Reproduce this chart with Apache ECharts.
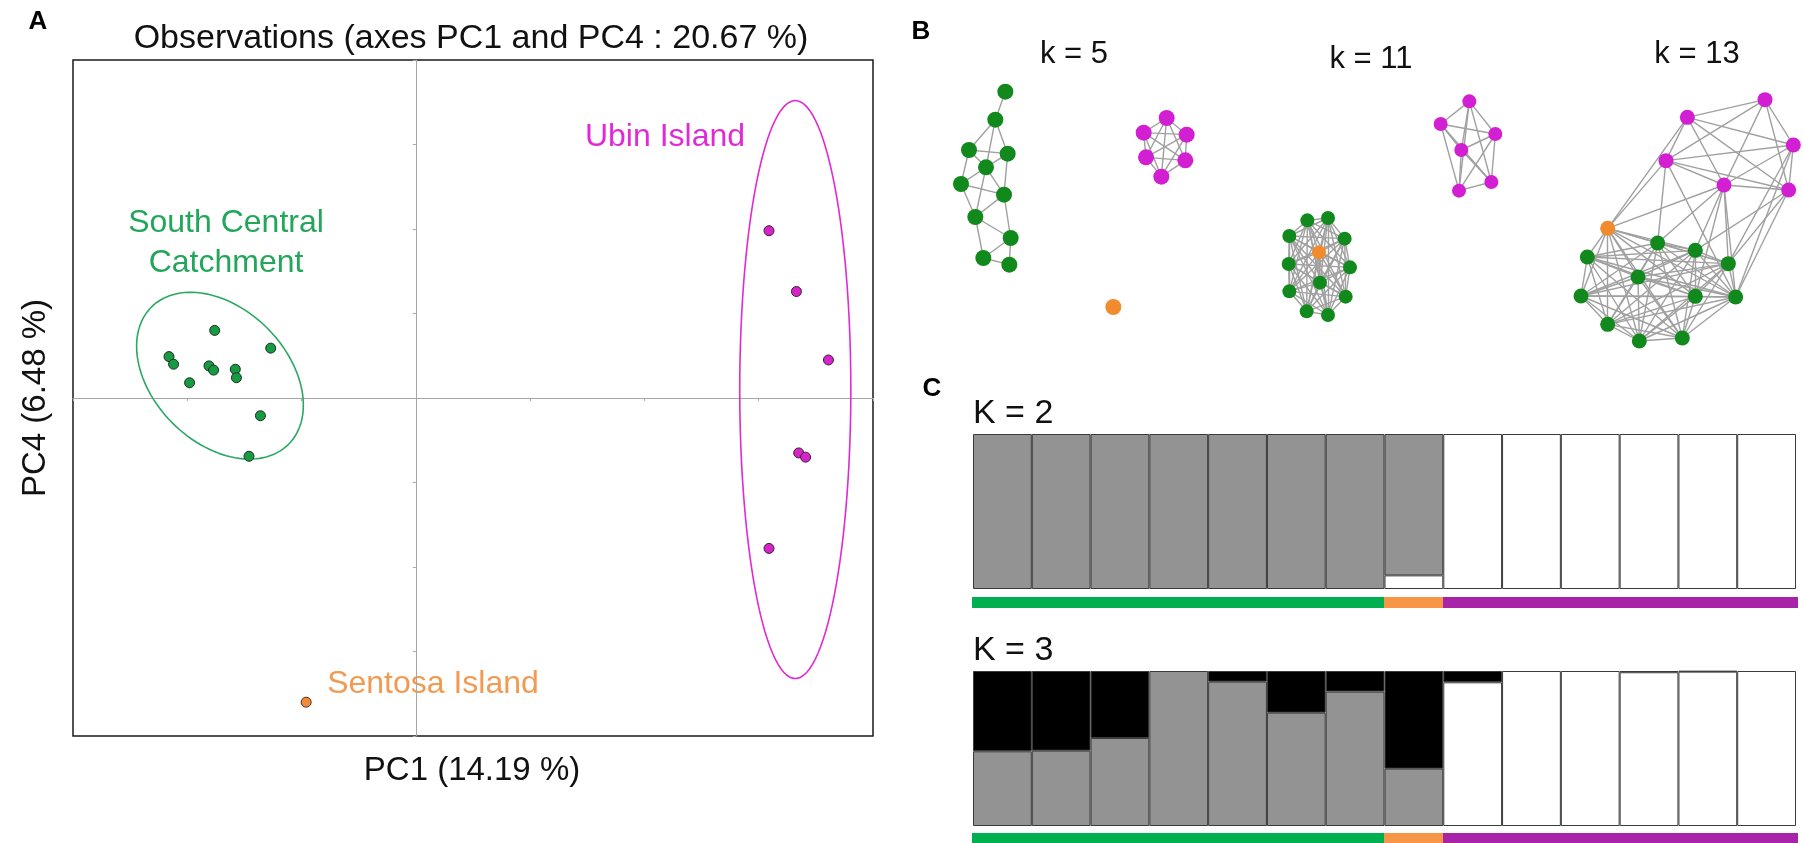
<!DOCTYPE html>
<html>
<head>
<meta charset="utf-8">
<script src="https://cdn.jsdelivr.net/npm/echarts@6/dist/echarts.min.js"></script>
<style>
  html, body { margin: 0; padding: 0; background: #fff; }
  #chart { width: 1803px; height: 843px; }
</style>
</head>
<body>
<div id="chart"></div>
<script>
// ---------- Panel A: PCA scores (PC1 vs PC4) ----------
const sccX = [-1.76, -1.27, -2.16, -2.12, -1.81, -1.77, -1.58, -1.57, -1.98, -1.36, -1.46];
const sccY = [0.80, 0.59, 0.49, 0.40, 0.38, 0.33, 0.34, 0.24, 0.18, -0.21, -0.69];
const ubinX = [3.09, 3.33, 3.61, 3.35, 3.41, 3.09];
const ubinY = [1.98, 1.26, 0.45, -0.65, -0.70, -1.78];
const sentosaX = [-0.96];
const sentosaY = [-3.60];
// confidence ellipses: centre x, centre y, first semi-axis (dx, dy), second semi-axis (dx, dy)
const ellipseSCC = [-1.714, 0.264, 0.600, -0.812, 0.415, 0.561];
const ellipseUbin = [3.32, 0.10, 0.486, 0.0, 0.0, 3.42];
const pcaXTicks = [-3, 4, 1];   // min, max, interval
const pcaYTicks = [-4, 4, 1];

// ---------- Panel B: k-nearest-neighbour networks (layout units) ----------
const k5Green = [[226,95],[196,179],[117,270],[233,281],[168,322],[93,372],[222,404],[136,471],[242,534],[160,594],[238,614]];
const k5Magenta = [[710,174],[641,218],[770,224],[648,292],[766,301],[694,350]];
const k5Orange = [[550,741]];
const k5GreenLinks = [[0,1],[1,2],[1,3],[1,4],[2,3],[2,4],[3,4],[2,5],[4,5],[3,6],[4,6],[5,6],[4,7],[5,7],[6,7],[6,8],[7,8],[7,9],[8,9],[8,10],[9,10]];

const k11Green = [[172,421],[234,414],[118,468],[284,476],[116,552],[300,562],[210,608],[118,634],[287,650],[170,694],[234,705]];
const k11Orange = [[207,517]];
const k11Magenta = [[658,64],[572,132],[736,162],[634,210],[724,306],[627,332]];

const k13Magenta = [[645,119],[412,172],[730,255],[348,302],[522,375],[716,390]];
const k13Orange = [[173,505]];
const k13Green = [[323,549],[436,571],[112,591],[535,611],[264,651],[93,708],[436,709],[557,711],[173,793],[268,843],[397,834]];
// links between the Ubin cluster (first index) and the others (o = Sentosa, g# = green)
const k13CrossLinks = [[3,'o'],[1,'o'],[4,'o'],[3,'g0'],[3,'g7'],[4,'g0'],[4,'g1'],[4,'g3'],[4,'g6'],[4,'g7'],[5,'g1'],[5,'g3'],[5,'g7'],[2,'g7'],[2,'g3']];

// ---------- Panel C: ancestry proportions ----------
const individuals = ['1','2','3','4','5','6','7','8','9','10','11','12','13','14'];
const population = ['SCC','SCC','SCC','SCC','SCC','SCC','SCC','Sentosa','Ubin','Ubin','Ubin','Ubin','Ubin','Ubin'];
const k2White = [0, 0, 0, 0, 0, 0, 0, 0.088, 1, 1, 1, 1, 1, 1];
const k2Gray  = [1, 1, 1, 1, 1, 1, 1, 0.912, 0, 0, 0, 0, 0, 0];
const k3White = [0, 0, 0, 0, 0, 0, 0, 0, 0.927, 1, 1, 0.992, 0.996, 1];
const k3Gray  = [0.482, 0.486, 0.568, 1, 0.931, 0.731, 0.867, 0.370, 0, 0, 0, 0, 0.004, 0];
const k3Black = [0.518, 0.514, 0.432, 0, 0.069, 0.269, 0.133, 0.630, 0.073, 0, 0, 0.008, 0, 0];

// ---------- styles ----------
const FONT = '"Liberation Sans", Arial, Helvetica, sans-serif';
const C = {
  sccText: '#22a65a', sccEllipse: '#2aa862', sccPoint: '#169a42',
  ubinText: '#e02ad6', ubinEllipse: '#e02ad6', ubinPoint: '#d624c8',
  sentosaText: '#f29a52', sentosaPoint: '#f08c3a',
  netGreen: '#12891c', netMagenta: '#d21fd2', netOrange: '#f28a2e', edge: '#a0a0a0',
  barGray: '#939393', barBlack: '#000000', barWhite: '#ffffff', barBorder: '#3a3a3a',
  stripGreen: '#00b050', stripOrange: '#f79646', stripPurple: '#a724a9'
};
const popColor = { SCC: C.stripGreen, Sentosa: C.stripOrange, Ubin: C.stripPurple };

const zip = (xs, ys) => xs.map((x, i) => [x, ys[i]]);

function graphSeries(axis, groups, links, size) {
  const data = [];
  const idx = {};
  groups.forEach(g => {
    g.nodes.forEach((p, i) => {
      idx[g.key + i] = data.length;
      data.push({ name: g.key + i, value: p, itemStyle: { color: g.color } });
    });
  });
  return {
    type: 'graph', coordinateSystem: 'cartesian2d', layout: 'none',
    xAxisIndex: axis, yAxisIndex: axis, silent: true,
    symbol: 'circle', symbolSize: size,
    itemStyle: { borderWidth: 0 },
    lineStyle: { color: C.edge, width: 1.4, opacity: 1, curveness: 0 },
    data: data,
    links: links.map(([a, b]) => ({ source: data[idx[a]].name, target: data[idx[b]].name }))
  };
}
function complete(prefixes, counts) {
  const names = [];
  prefixes.forEach((p, k) => { for (let i = 0; i < counts[k]; i++) names.push(p + i); });
  const out = [];
  for (let i = 0; i < names.length; i++)
    for (let j = i + 1; j < names.length; j++) out.push([names[i], names[j]]);
  return out;
}

const k5Links = k5GreenLinks.map(([a, b]) => ['g' + a, 'g' + b])
  .concat(complete(['m'], [k5Magenta.length]));
const k11Links = complete(['g', 'o'], [k11Green.length, k11Orange.length])
  .concat(complete(['m'], [k11Magenta.length]));
const k13Links = complete(['g', 'o'], [k13Green.length, k13Orange.length])
  .concat(complete(['m'], [k13Magenta.length]))
  .concat(k13CrossLinks.map(([m, t]) => ['m' + m, t === 'o' ? 'o0' : t]));

const nz = v => (v > 0 ? v : '-');
function stackBar(axis, values, color, stack) {
  return {
    type: 'bar', xAxisIndex: axis, yAxisIndex: axis, stack: stack, silent: true,
    barCategoryGap: '0%', barGap: '0%',
    itemStyle: { color: color, borderColor: C.barBorder, borderWidth: 1 },
    data: values.map(nz)
  };
}
// population colour strip under each plot: one seamless block per individual
function stripSeries(axis) {
  return {
    type: 'custom', xAxisIndex: axis, yAxisIndex: axis, silent: true,
    data: population.map((p, i) => [i, 1]),
    renderItem: function (params, api) {
      const top = api.coord([api.value(0), api.value(1)]);
      const bottom = api.coord([api.value(0), 0]);
      const w = api.size([1, 0])[0];
      return {
        type: 'rect',
        shape: { x: Math.floor(top[0] - w / 2), y: top[1], width: Math.ceil(w) + 1, height: bottom[1] - top[1] },
        style: { fill: popColor[population[params.dataIndex]] }
      };
    }
  };
}

const hiddenValue = (gi, min, max, inverse) => ({ type: 'value', gridIndex: gi, min, max, inverse: !!inverse, show: false });
const hiddenCat = gi => ({ type: 'category', gridIndex: gi, data: individuals, show: false });

const pcaAxisStyle = {
  axisLine: { show: true, onZero: true, lineStyle: { color: '#a6a6a6', width: 1 } },
  axisTick: { show: true, length: 3, lineStyle: { color: '#a6a6a6' } },
  axisLabel: { show: false }, splitLine: { show: false }
};

const ellipseColors = [C.sccEllipse, C.ubinEllipse];

function txt(text, x, y, size, color, opts) {
  return Object.assign({
    type: 'text', x: x, y: y, silent: true,
    style: { text: text, font: (opts && opts.bold ? 'bold ' : '') + size + 'px ' + FONT, fill: color,
             align: (opts && opts.align) || 'center', verticalAlign: 'middle' }
  }, opts && opts.rotation ? { rotation: opts.rotation } : {});
}

const option = {
  animation: false,
  backgroundColor: '#ffffff',
  textStyle: { fontFamily: FONT },
  grid: [
    { left: 73, top: 60, width: 800, height: 676, show: true, borderColor: '#1a1a1a', borderWidth: 1.5, backgroundColor: 'transparent' },
    { left: 930, top: 60, width: 300, height: 320 },
    { left: 1250, top: 80, width: 280, height: 300 },
    { left: 1550, top: 60, width: 253, height: 320 },
    { left: 973, top: 434, width: 823, height: 155 },
    { left: 972, top: 597, width: 825, height: 11 },
    { left: 973, top: 671, width: 823, height: 155 },
    { left: 972, top: 833, width: 825, height: 11 }
  ],
  xAxis: [
    Object.assign({ type: 'value', gridIndex: 0, min: pcaXTicks[0], max: pcaXTicks[1], interval: pcaXTicks[2] }, pcaAxisStyle),
    hiddenValue(1, 0, 900), hiddenValue(2, 0, 840), hiddenValue(3, 0, 759),
    hiddenCat(4), hiddenCat(5), hiddenCat(6), hiddenCat(7)
  ],
  yAxis: [
    Object.assign({ type: 'value', gridIndex: 0, min: pcaYTicks[0], max: pcaYTicks[1], interval: pcaYTicks[2] }, pcaAxisStyle),
    hiddenValue(1, 0, 960, true), hiddenValue(2, 0, 900, true), hiddenValue(3, 0, 960, true),
    hiddenValue(4, 0, 1), hiddenValue(5, 0, 1), hiddenValue(6, 0, 1), hiddenValue(7, 0, 1)
  ],
  series: [
    {
      type: 'custom', xAxisIndex: 0, yAxisIndex: 0, silent: true, clip: true,
      data: [ellipseSCC, ellipseUbin],
      renderItem: function (params, api) {
        const cx = api.value(0), cy = api.value(1);
        const ux = api.value(2), uy = api.value(3), vx = api.value(4), vy = api.value(5);
        const pts = [];
        for (let k = 0; k <= 120; k++) {
          const t = k / 120 * Math.PI * 2;
          pts.push(api.coord([cx + ux * Math.cos(t) + vx * Math.sin(t), cy + uy * Math.cos(t) + vy * Math.sin(t)]));
        }
        return { type: 'polyline', shape: { points: pts }, style: { fill: 'none', stroke: ellipseColors[params.dataIndex], lineWidth: 1.6 } };
      }
    },
    { type: 'scatter', xAxisIndex: 0, yAxisIndex: 0, silent: true, symbolSize: 10, data: zip(sccX, sccY),
      itemStyle: { color: C.sccPoint, borderColor: '#1f2f22', borderWidth: 1, opacity: 1 } },
    { type: 'scatter', xAxisIndex: 0, yAxisIndex: 0, silent: true, symbolSize: 10, data: zip(ubinX, ubinY),
      itemStyle: { color: C.ubinPoint, borderColor: '#3a2038', borderWidth: 1, opacity: 1 } },
    { type: 'scatter', xAxisIndex: 0, yAxisIndex: 0, silent: true, symbolSize: 10, data: zip(sentosaX, sentosaY),
      itemStyle: { color: C.sentosaPoint, borderColor: '#4a3020', borderWidth: 1, opacity: 1 } },

    graphSeries(1, [
      { key: 'g', nodes: k5Green, color: C.netGreen },
      { key: 'm', nodes: k5Magenta, color: C.netMagenta },
      { key: 'o', nodes: k5Orange, color: C.netOrange }
    ], k5Links, 16),
    graphSeries(2, [
      { key: 'g', nodes: k11Green, color: C.netGreen },
      { key: 'o', nodes: k11Orange, color: C.netOrange },
      { key: 'm', nodes: k11Magenta, color: C.netMagenta }
    ], k11Links, 14),
    graphSeries(3, [
      { key: 'g', nodes: k13Green, color: C.netGreen },
      { key: 'o', nodes: k13Orange, color: C.netOrange },
      { key: 'm', nodes: k13Magenta, color: C.netMagenta }
    ], k13Links, 15),

    stackBar(4, k2White, C.barWhite, 'k2'),
    stackBar(4, k2Gray, C.barGray, 'k2'),
    stripSeries(5),
    stackBar(6, k3White, C.barWhite, 'k3'),
    stackBar(6, k3Gray, C.barGray, 'k3'),
    stackBar(6, k3Black, C.barBlack, 'k3'),
    stripSeries(7)
  ],
  graphic: [
    txt('A', 38, 22, 26, '#000', { bold: true }),
    txt('Observations (axes PC1 and PC4 : 20.67 %)', 471, 39, 34, '#111'),
    txt('PC4 (6.48 %)', 36, 398, 33, '#111', { rotation: Math.PI / 2 }),
    txt('PC1 (14.19 %)', 472, 771, 33, '#111'),
    txt('South Central', 226, 223, 32, C.sccText),
    txt('Catchment', 226, 263, 32, C.sccText),
    txt('Ubin Island', 665, 137, 32, C.ubinText),
    txt('Sentosa Island', 433, 684, 32, C.sentosaText),
    txt('B', 921, 32, 26, '#000', { bold: true }),
    txt('k = 5', 1074, 54, 31, '#111'),
    txt('k = 11', 1371, 59, 31, '#111'),
    txt('k = 13', 1697, 54, 31, '#111'),
    txt('C', 932, 389, 26, '#000', { bold: true }),
    txt('K = 2', 973, 414, 34, '#111', { align: 'left' }),
    txt('K = 3', 973, 651, 34, '#111', { align: 'left' })
  ]
};

const chart = echarts.init(document.getElementById('chart'), null, { renderer: 'canvas' });
chart.setOption(option);
</script>
</body>
</html>
